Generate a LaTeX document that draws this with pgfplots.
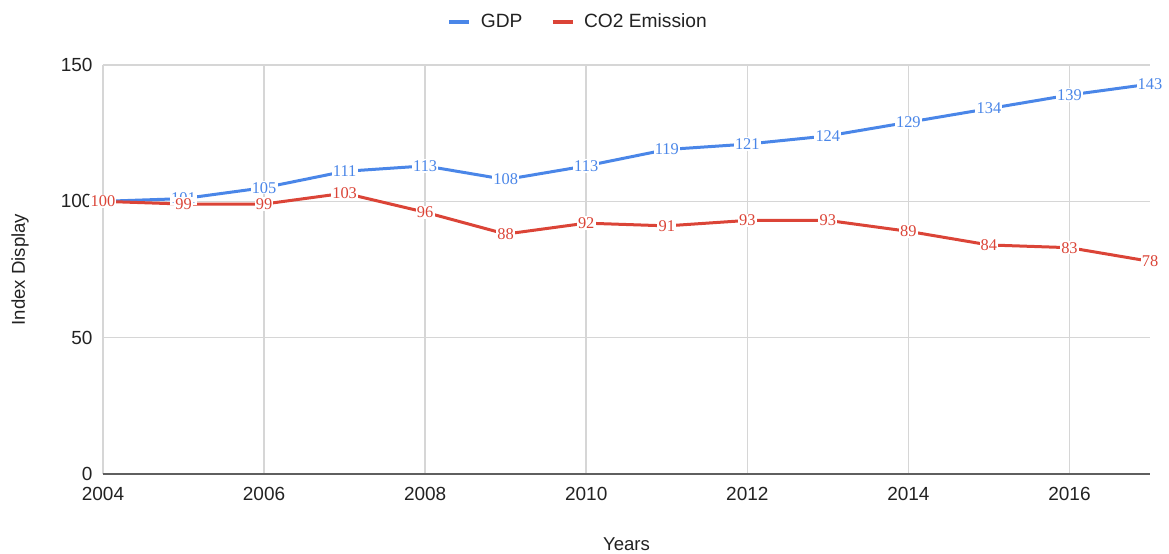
\documentclass[border=0pt]{standalone}
\usepackage{pgfplots}
\pgfplotsset{compat=1.18}
\usepackage{fontspec}
\setmainfont{Liberation Sans}
\newfontfamily\valuefont{Liberation Serif}
\definecolor{gdpblue}{HTML}{4A86E8}
\definecolor{co2red}{HTML}{DB4437}
\definecolor{gridgray}{HTML}{D6D6D6}
\definecolor{axisgray}{HTML}{5F5F5F}
\definecolor{textgray}{HTML}{222222}

\pgfplotstableread{
year gdp co2
2004 100 100
2005 101 99
2006 105 99
2007 111 103
2008 113 96
2009 108 88
2010 113 92
2011 119 91
2012 121 93
2013 124 93
2014 129 89
2015 134 84
2016 139 83
2017 143 78
}\indexdata

\begin{document}
\begin{tikzpicture}
\useasboundingbox (-51.5pt,-39.5pt) rectangle (533pt,237pt);
\begin{axis}[
  at={(0,0)}, anchor=south west,
  scale only axis, width=523.5pt, height=204.5pt,
  xmin=2004, xmax=2017, ymin=0, ymax=150,
  xtick={2004,2006,...,2016}, ytick={0,50,100,150},
  /pgf/number format/assume math mode=true,
  /pgf/number format/1000 sep={},
  tick label style={font=\fontsize{9.5}{11}\selectfont, text=textgray},
  xticklabel style={yshift=-3pt},
  yticklabel style={xshift=-1.7pt},
  major tick length=0pt,
  grid=major,
  grid style={gridgray, line width=0.8pt},
  axis line style={draw=none},
  clip=false,
  xlabel={Years},
  ylabel={Index Display},
  label style={font=\fontsize{9.3}{11}\selectfont, text=textgray},
  xlabel style={at={(axis description cs:0.5,-0.171)}, anchor=center},
  ylabel style={at={(axis description cs:-0.0793,0.5)}, anchor=center},
  legend columns=2,
  legend style={at={(axis description cs:0.4546,1.105)}, anchor=center,
    draw=none, fill=none, font=\fontsize{9.6}{11}\selectfont, text=textgray,
    /tikz/every even column/.append style={column sep=12pt}},
  legend image code/.code={%
    \draw[line width=2.2pt] (0pt,0pt) -- (10pt,0pt);
    \path (13pt,0pt);},
  nodes near coords,
  nodes near coords align=center,
  every node near coord/.append style={anchor=center, fill=white,
    inner sep=0.6pt, font=\valuefont\fontsize{8.2}{9}\selectfont},
]
\draw[axisgray, line width=1pt] (rel axis cs:0,0) -- (rel axis cs:1,0);
\addplot[gdpblue, line width=1.5pt, mark=none,
  every node near coord/.append style={text=gdpblue}]
  table[x=year, y=gdp] {\indexdata};
\addlegendentry{GDP}
\addplot[co2red, line width=1.5pt, mark=none,
  every node near coord/.append style={text=co2red}]
  table[x=year, y=co2] {\indexdata};
\addlegendentry{CO2 Emission}
\end{axis}
\end{tikzpicture}
\end{document}
